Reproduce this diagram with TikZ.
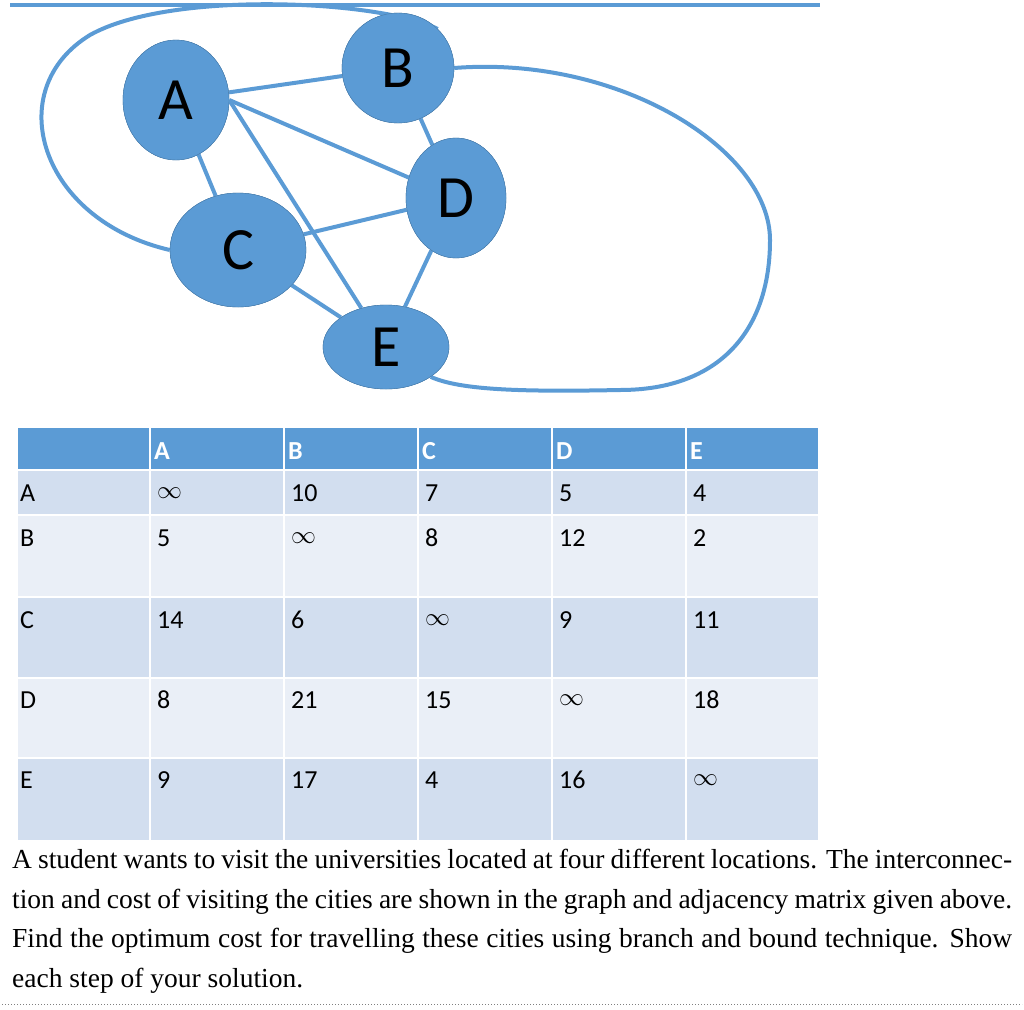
\documentclass[tikz,border=0pt]{standalone}
\usepackage{fontspec}
\setmainfont{Liberation Serif}
\newfontfamily\calfont{Carlito}
\usetikzlibrary{shapes.geometric}
\definecolor{bl}{HTML}{5B9BD5}
\definecolor{rd}{HTML}{D2DEEF}
\definecolor{rl}{HTML}{EAEFF7}
\begin{document}
\begin{tikzpicture}[x=1pt,y=-1pt,
 city/.style={ellipse,fill=bl,draw=bl!80!black,line width=0.4pt,inner sep=0pt,font=\calfont\fontsize{60}{60}\selectfont},
 edge/.style={draw=bl,line width=4pt},
 cell/.style={anchor=west,font=\calfont\fontsize{26}{26}\selectfont,inner sep=0pt}]
\useasboundingbox (0,0) rectangle (1024,1009);
\draw[edge] (10,5) -- (820,5);
\node[city,minimum width=106,minimum height=120] (A) at (176,100) {A};
\node[city,minimum width=112,minimum height=110] (B) at (398,68) {B};
\node[city,minimum width=100,minimum height=120] (D) at (456,198) {D};
\node[city,minimum width=136,minimum height=114] (C) at (238,250) {C};
\node[city,minimum width=126,minimum height=84] (E) at (386,347) {E};
\draw[edge] (A) -- (B);
\draw[edge] (A) -- (C);
\draw[edge] (A.east) -- (D);
\draw[edge] (A.east) -- (E);
\draw[edge] (B) -- (D);
\draw[edge] (C) -- (D);
\draw[edge] (C) -- (E);
\draw[edge] (D) -- (E);
\draw[edge] (C.west) .. controls (40,220) and (0,90) .. (90,35) .. controls (170,-10) and (380,0) .. (B.north east);
\draw[edge] (B.east) .. controls (620,55) and (770,150) .. (770,240) .. controls (770,330) and (720,390) .. (620,390) .. controls (520,392) and (460,390) .. (E.south east);
\node[city,minimum width=106,minimum height=120] at (176,100) {A};
\node[city,minimum width=112,minimum height=110] at (398,68) {B};
\node[city,minimum width=100,minimum height=120] at (456,198) {D};
\node[city,minimum width=136,minimum height=114] at (238,250) {C};
\node[city,minimum width=126,minimum height=84] at (386,347) {E};
% table
\fill[bl] (18,428) rectangle (818,470);
\fill[rd] (18,470) rectangle (818,515);
\fill[rl] (18,515) rectangle (818,597);
\fill[rd] (18,597) rectangle (818,678);
\fill[rl] (18,678) rectangle (818,758);
\fill[rd] (18,758) rectangle (818,840);
\foreach \y in {470,515,597,678,758} \draw[white,line width=2pt] (18,\y) -- (818,\y);
\foreach \x in {150,284,418,552,686} \draw[white,line width=1.5pt] (\x,428) -- (\x,840);
\foreach \l [count=\i from 0] in {A,B,C,D,E}
  \node[cell,text=white,font=\calfont\bfseries\fontsize{26}{26}\selectfont] (h\l) at (150+134*\i+4,451) {\l};
\foreach \r/\yy/\vals in {A/493/{A,$\infty$,10,7,5,4},B/538/{B,5,$\infty$,8,12,2},C/620/{C,14,6,$\infty$,9,11},D/700/{D,8,21,15,$\infty$,18},E/780/{E,9,17,4,16,$\infty$}}{
  \foreach \v [count=\j from 0] in \vals {
    \ifnum\j=0 \node[cell] (r\r\j) at (20,\yy) {\v};
    \else \node[cell] (r\r\j) at (150+134*\j-134+7,\yy) {\v};\fi
  }
}
\node[anchor=north west,text width=1000,align=justify,inner sep=0pt,font=\fontsize{27.5}{39.5}\selectfont] (txt) at (12,849)
 {A student wants to visit the universities located at four different locations. The interconnection and cost of visiting the cities are shown in the graph and adjacency matrix given above. Find the optimum cost for travelling these cities using branch and bound technique. Show each step of your solution.};
\draw[gray,dotted,line width=1pt] (2,1004) -- (1022,1004);
\end{tikzpicture}
\end{document}
